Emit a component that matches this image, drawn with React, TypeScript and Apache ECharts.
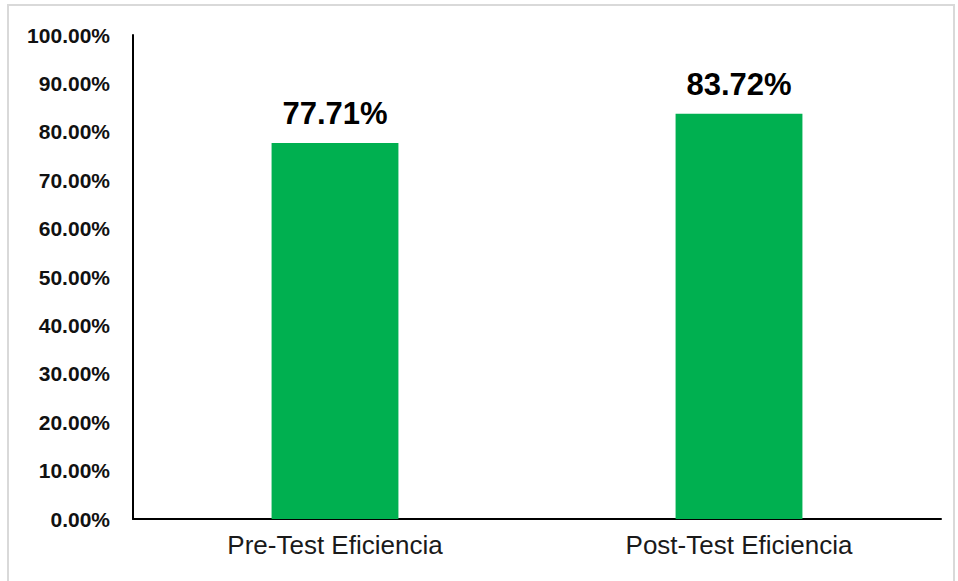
import React, { useEffect, useRef } from "react";
import * as echarts from "echarts";

const categories = ["Pre-Test Eficiencia", "Post-Test Eficiencia"];
const values = [77.71, 83.72];
const yMin = 0;
const yMax = 100;
const yInterval = 10;

export default function App() {
  const ref = useRef<HTMLDivElement>(null);
  useEffect(() => {
    if (!ref.current) return;
    const chart = echarts.init(ref.current, null, { renderer: "svg" });
    chart.setOption({
      animation: false,
      backgroundColor: "#ffffff",
      graphic: [
        {
          type: "rect",
          shape: { x: 8, y: 5, width: 946, height: 590 },
          style: { fill: "none", stroke: "#d9d9d9", lineWidth: 2 },
          silent: true,
        },
      ],
      grid: { left: 133, right: 17, top: 35, bottom: 62 },
      xAxis: {
        type: "category",
        data: categories,
        axisLine: { lineStyle: { color: "#000", width: 2 } },
        axisTick: { show: false },
        axisLabel: {
          color: "#1a1a1a",
          fontFamily: "Liberation Sans, Arial, sans-serif",
          fontSize: 26,
          margin: 13,
        },
      },
      yAxis: {
        type: "value",
        min: yMin,
        max: yMax,
        interval: yInterval,
        axisLine: { show: true, lineStyle: { color: "#000", width: 2 } },
        axisTick: { show: false },
        splitLine: { show: false },
        axisLabel: {
          color: "#111",
          fontFamily: "Liberation Sans, Arial, sans-serif",
          fontWeight: "bold",
          fontSize: 21,
          margin: 23,
          formatter: (v: number) => v.toFixed(2) + "%",
        },
      },
      series: [
        {
          type: "bar",
          data: values,
          barWidth: "31.4%",
          itemStyle: { color: "#00B050" },
          label: {
            show: true,
            position: "top",
            distance: 14,
            color: "#000",
            fontFamily: "Liberation Sans, Arial, sans-serif",
            fontWeight: "bold",
            fontSize: 31,
            formatter: (p: any) => Number(p.value).toFixed(2) + "%",
          },
        },
      ],
    });
    return () => chart.dispose();
  }, []);
  return (
    <div
      ref={ref}
      style={{ position: "fixed", left: 0, top: 0, width: 958, height: 581 }}
    />
  );
}
